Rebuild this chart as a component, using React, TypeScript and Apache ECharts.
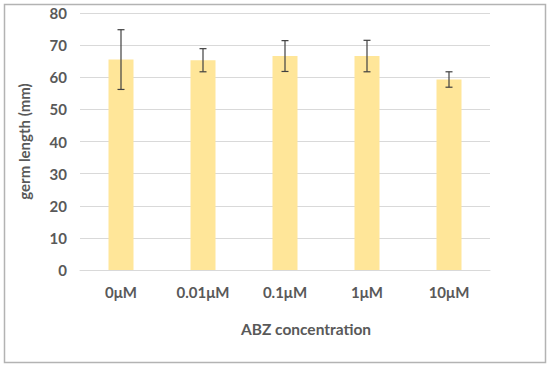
import React, { useEffect, useRef } from "react";
import * as echarts from "echarts";

const categories = ["0μM", "0.01μM", "0.1μM", "1μM", "10μM"];
const means = [65.5, 65.3, 66.6, 66.6, 59.3];
const errors = [9.3, 3.6, 4.8, 4.9, 2.4];
const yTicks = { min: 0, max: 80, interval: 10 };

const FONT = "Lato, 'Liberation Sans', sans-serif";
const TEXT = "#595959";

export default function App() {
  const ref = useRef<HTMLDivElement>(null);
  useEffect(() => {
    if (!ref.current) return;
    const chart = echarts.init(ref.current, undefined, { renderer: "svg" });
    const errData = categories.map((_, i) => [i, means[i] - errors[i], means[i] + errors[i]]);
    chart.setOption({
      animation: false,
      backgroundColor: "#ffffff",
      graphic: [
        {
          type: "rect",
          shape: { x: 4.5, y: 4.5, width: 541, height: 358 },
          style: { fill: "none", stroke: "#b3b3b3", lineWidth: 1.5 },
          silent: true,
        },
      ],
      grid: { left: 80, right: 60, top: 13, bottom: 98, containLabel: false },
      xAxis: {
        type: "category",
        data: categories,
        axisLine: { show: true, lineStyle: { color: "#d9d9d9", width: 1 } },
        axisTick: { show: false },
        axisLabel: { color: TEXT, fontFamily: FONT, fontWeight: "bold", fontSize: 15, margin: 14 },
        name: "ABZ concentration",
        nameLocation: "middle",
        nameGap: 51,
        nameTextStyle: {
          color: TEXT,
          fontFamily: FONT,
          fontWeight: "bold",
          fontSize: 15.5,
          padding: [0, 0, 0, 42],
        },
      },
      yAxis: {
        type: "value",
        min: yTicks.min,
        max: yTicks.max,
        interval: yTicks.interval,
        axisLine: { show: false },
        axisTick: { show: false },
        splitLine: { lineStyle: { color: "#d9d9d9", width: 1 } },
        axisLabel: { color: TEXT, fontFamily: FONT, fontWeight: "bold", fontSize: 15, margin: 13 },
        name: "germ length (mm)",
        nameLocation: "middle",
        nameGap: 49,
        nameRotate: 90,
        nameTextStyle: { color: TEXT, fontFamily: FONT, fontWeight: "bold", fontSize: 15 },
      },
      series: [
        {
          type: "bar",
          data: means,
          barWidth: 25,
          itemStyle: { color: "#FFE699" },
          silent: true,
        },
        {
          type: "custom",
          data: errData,
          silent: true,
          z: 10,
          renderItem: (params: any, api: any) => {
            const x = api.value(0);
            const lo = api.coord([x, api.value(1)]);
            const hi = api.coord([x, api.value(2)]);
            const cap = 3.5;
            const style = { stroke: "#404040", lineWidth: 1.2 };
            return {
              type: "group",
              children: [
                { type: "line", shape: { x1: hi[0], y1: hi[1], x2: lo[0], y2: lo[1] }, style },
                { type: "line", shape: { x1: hi[0] - cap, y1: hi[1], x2: hi[0] + cap, y2: hi[1] }, style },
                { type: "line", shape: { x1: lo[0] - cap, y1: lo[1], x2: lo[0] + cap, y2: lo[1] }, style },
              ],
            };
          },
        },
      ],
    });
    return () => chart.dispose();
  }, []);
  return (
    <div
      ref={ref}
      style={{ position: "absolute", left: 0, top: 0, width: 550, height: 368 }}
    />
  );
}
